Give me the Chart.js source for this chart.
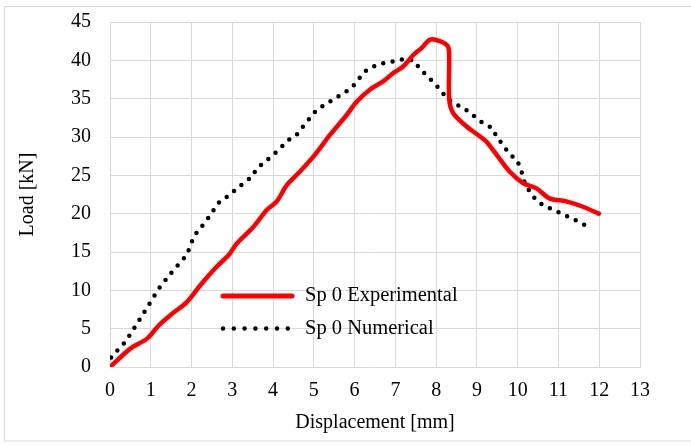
<!DOCTYPE html>
<html>
<head>
<meta charset="utf-8">
<title>Load vs displacement</title>
<script src="https://cdn.jsdelivr.net/npm/chart.js@4.4.0/dist/chart.umd.min.js"></script>
<style>
  html, body { margin: 0; padding: 0; background: #fff; }
  canvas { display: block; }
</style>
</head>
<body>
<canvas id="loadChart" width="691" height="445"></canvas>
<script>
// Sp 0 test curve
const expX = [0, 0.5, 0.91, 1.2, 1.48, 1.89, 2.22, 2.62, 2.91, 3.11, 3.52, 3.85, 4.09, 4.34, 4.66, 5.03, 5.4, 5.81, 6.05, 6.38, 6.7, 6.95, 7.19, 7.44, 7.64, 7.85, 8.09, 8.29, 8.32, 8.32, 8.42, 8.74, 9.07, 9.23, 9.48, 9.8, 10.13, 10.46, 10.78, 11.19, 11.6, 11.99];
const expY = [0, 2.4, 3.7, 5.45, 6.76, 8.5, 10.7, 13.1, 14.6, 16.1, 18.3, 20.5, 21.6, 23.75, 25.5, 27.7, 30.3, 32.9, 34.6, 36.2, 37.25, 38.35, 39.2, 40.7, 41.6, 42.7, 42.5, 41.8, 40.1, 34.9, 33.1, 31.4, 30.1, 29.4, 27.7, 25.5, 24.0, 23.3, 22.0, 21.6, 20.9, 20.0];

// Sp 0 model curve
const numX = [0, 0.03, 0.38, 0.67, 0.95, 1.2, 1.52, 1.85, 1.97, 2.05, 2.38, 2.66, 2.87, 3.28, 3.48, 3.6, 4.01, 4.38, 4.58, 4.74, 5.07, 5.48, 5.93, 6.09, 6.25, 6.46, 6.74, 6.99, 7.23, 7.44, 7.6, 7.97, 8.29, 8.73, 9.15, 9.37, 9.49, 9.8, 9.99, 10.09, 10.15, 10.27, 10.42, 10.62, 11.08, 11.55, 11.82];
const numY = [0, 1.3, 3.3, 5.7, 8.1, 10.25, 12.4, 14.4, 15.7, 17.0, 19.2, 21.4, 22.2, 24.0, 24.8, 25.9, 27.7, 29.6, 30.3, 31.4, 33.55, 34.9, 36.4, 37.5, 38.55, 39.2, 39.7, 39.9, 40.2, 40.0, 38.9, 36.95, 34.9, 33.55, 31.8, 31.2, 30.0, 27.8, 26.9, 25.6, 24.3, 23.1, 22.0, 21.1, 20.0, 18.8, 18.0];

const seriesNames = ["Sp 0 Experimental", "Sp 0 Numerical"];
const xTitle = "Displacement [mm]";
const yTitle = "Load [kN]";

const serif = "'Liberation Serif', 'Times New Roman', serif";
const gridColor = "#d9d9d9";

function toPoints(xs, ys) {
    return xs.map((x, i) => ({ x: x, y: ys[i] }));
}

// white page + thin frame around the whole figure
const frame = {
    id: "frame",
    beforeDraw(chart) {
        const ctx = chart.ctx;
        ctx.save();
        ctx.fillStyle = "#fff";
        ctx.fillRect(0, 0, chart.width, chart.height);
        ctx.strokeStyle = gridColor;
        ctx.lineWidth = 1;
        ctx.strokeRect(4.5, 6.5, chart.width, chart.height - 4 - 6.5);
        ctx.restore();
    }
};

// legend sits inside the plot, lower middle
const insideLegend = {
    id: "insideLegend",
    afterDraw(chart) {
        const ctx = chart.ctx;
        ctx.save();
        ctx.lineCap = "round";

        ctx.strokeStyle = "#ff0000";
        ctx.lineWidth = 5;
        ctx.beginPath();
        ctx.moveTo(223, 296);
        ctx.lineTo(292, 296);
        ctx.stroke();

        ctx.strokeStyle = "#000";
        ctx.lineWidth = 4.5;
        ctx.setLineDash([0, 10.8]);
        ctx.beginPath();
        ctx.moveTo(223, 328.5);
        ctx.lineTo(289, 328.5);
        ctx.stroke();
        ctx.setLineDash([]);

        ctx.fillStyle = "#000";
        ctx.font = "20.5px " + serif;
        ctx.textBaseline = "middle";
        ctx.textAlign = "left";
        ctx.fillText(seriesNames[0], 305, 296);
        ctx.fillText(seriesNames[1], 305, 328.5);
        ctx.restore();
    }
};

const ctx = document.getElementById("loadChart").getContext("2d");
window.loadChart = new Chart(ctx, {
    type: "scatter",
    data: {
        datasets: [{
            label: seriesNames[0],
            data: toPoints(expX, expY),
            showLine: true,
            borderColor: "#ff0000",
            borderWidth: 4.5,
            borderCapStyle: "round",
            borderJoinStyle: "round",
            tension: 0.3,
            pointRadius: 0
        }, {
            label: seriesNames[1],
            data: toPoints(numX, numY),
            showLine: true,
            borderColor: "#000",
            borderWidth: 4.5,
            borderCapStyle: "round",
            borderDash: [0, 9.5],
            tension: 0,
            pointRadius: 0
        }]
    },
    options: {
        responsive: false,
        animation: false,
        layout: { padding: { left: 0, right: 51, top: 22, bottom: 0 } },
        plugins: {
            legend: { display: false },
            tooltip: { enabled: false }
        },
        scales: {
            x: {
                type: "linear",
                min: 0,
                max: 13,
                afterFit(scale) { scale.height = 78; },
                ticks: {
                    stepSize: 1,
                    padding: 12,
                    color: "#000",
                    font: { family: serif, size: 20 }
                },
                grid: { color: gridColor, lineWidth: 1, drawTicks: false },
                border: { color: gridColor, width: 1 },
                title: {
                    display: true,
                    text: xTitle,
                    color: "#000",
                    font: { family: serif, size: 20 },
                    padding: { top: 0, bottom: 10 }
                }
            },
            y: {
                min: 0,
                max: 45,
                afterFit(scale) {
                    // fixed axis width; label padding must not push the plot down
                    scale.width = 110;
                    scale.paddingTop = 0;
                    scale.paddingBottom = 0;
                },
                ticks: {
                    stepSize: 5,
                    padding: 19,
                    color: "#000",
                    font: { family: serif, size: 20 }
                },
                grid: { color: gridColor, lineWidth: 1, drawTicks: false },
                border: { color: gridColor, width: 1 },
                title: {
                    display: true,
                    text: yTitle,
                    color: "#000",
                    font: { family: serif, size: 20 },
                    padding: { top: 16, bottom: 0 }
                }
            }
        }
    },
    plugins: [frame, insideLegend]
});
</script>
</body>
</html>
